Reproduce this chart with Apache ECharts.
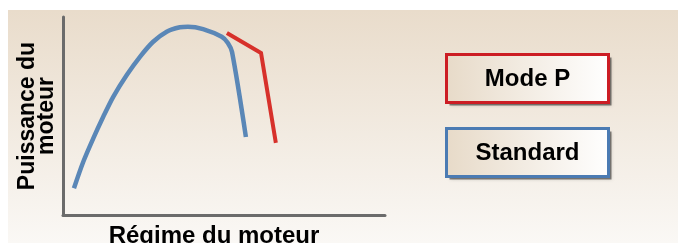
<!DOCTYPE html>
<html>
<head>
<meta charset="utf-8">
<script src="https://cdn.jsdelivr.net/npm/echarts@6/dist/echarts.min.js"></script>
<style>
  html, body { margin: 0; padding: 0; background: #fff; }
  #chart { width: 678px; height: 243px; }
</style>
</head>
<body>
<div id="chart"></div>
<script>
// régime (0-100) / puissance (0-100)
const standardRpm = [3.4, 6.3, 9.4, 12.5, 15.6, 19.8, 23.9, 28.0, 32.2, 36.3, 38.8, 43.5, 49.3, 51.2, 52.5, 56.8];
const standardPower = [13.5, 26.9, 38.7, 49.6, 59.7, 70.7, 79.9, 87.5, 92.6, 94.8, 95.1, 93.9, 90.0, 86.9, 82.3, 39.4];
const modePRpm = [50.9, 61.5, 66.1];
const modePPower = [91.9, 81.8, 36.4];
const legendNames = ['Mode P', 'Standard'];
const colors = ['#d7312b', '#5a87b7'];
const borderColors = ['#cc1d24', '#4b7bb3'];

const pairs = (xs, ys) => xs.map((x, i) => [x, ys[i]]);

const chart = echarts.init(document.getElementById('chart'));

const font = 'Liberation Sans, Arial, Helvetica, sans-serif';

function legendBox(name, i) {
    const top = i === 0 ? 53 : 127;
    return {
        type: 'group',
        left: 445,
        top: top,
        children: [
            {
                type: 'rect',
                shape: { x: 3, y: 3, width: 162, height: 48 },
                style: { fill: 'rgba(0,0,0,0.45)', shadowColor: 'rgba(0,0,0,0.4)', shadowBlur: 3 }
            },
            {
                type: 'rect',
                shape: { x: 0, y: 0, width: 162, height: 48 },
                style: {
                    fill: new echarts.graphic.LinearGradient(0, 0, 1, 0, [
                        { offset: 0, color: '#e7dac8' },
                        { offset: 1, color: '#ffffff' }
                    ]),
                    stroke: borderColors[i],
                    lineWidth: 3
                }
            },
            {
                type: 'text',
                x: 81,
                y: 25,
                style: {
                    text: name,
                    font: 'bold 24px ' + font,
                    fill: '#000',
                    align: 'center',
                    verticalAlign: 'middle'
                }
            }
        ]
    };
}

const option = {
    animation: false,
    backgroundColor: '#ffffff',
    graphic: [
        {
            type: 'rect',
            left: 8,
            top: 10,
            z: -10,
            silent: true,
            shape: { width: 670, height: 233 },
            style: {
                fill: new echarts.graphic.LinearGradient(0, 0, 0, 1, [
                    { offset: 0, color: '#e9dccb' },
                    { offset: 1, color: '#faf8f5' }
                ])
            }
        },
        legendBox(legendNames[0], 0),
        legendBox(legendNames[1], 1)
    ],
    grid: { left: 63, top: 17, right: 293, bottom: 28, outerBoundsMode: 'none', containLabel: false },
    xAxis: {
        type: 'value',
        min: 0,
        max: 100,
        name: 'Régime du moteur',
        nameLocation: 'middle',
        nameGap: 9,
        nameTextStyle: {
            fontFamily: font,
            fontWeight: 'bold',
            fontSize: 24,
            color: '#000',
            verticalAlign: 'top',
            padding: [0, 20, 0, 0]
        },
        axisLine: { lineStyle: { color: '#6b6b6b', width: 3 } },
        axisTick: { show: false },
        axisLabel: { show: false },
        splitLine: { show: false }
    },
    yAxis: {
        type: 'value',
        min: 0,
        max: 100,
        name: 'Puissance du\nmoteur',
        nameLocation: 'middle',
        nameGap: 7,
        nameRotate: 90,
        nameTextStyle: {
            fontFamily: font,
            fontWeight: 'bold',
            fontSize: 23,
            lineHeight: 19,
            color: '#000'
        },
        axisLine: { show: true, lineStyle: { color: '#6b6b6b', width: 3 } },
        axisTick: { show: false },
        axisLabel: { show: false },
        splitLine: { show: false }
    },
    series: [
        {
            name: legendNames[1],
            type: 'line',
            data: pairs(standardRpm, standardPower),
            smooth: 0.3,
            symbol: 'none',
            lineStyle: { color: colors[1], width: 4.5, cap: 'butt', join: 'round' }
        },
        {
            name: legendNames[0],
            type: 'line',
            data: pairs(modePRpm, modePPower),
            symbol: 'none',
            lineStyle: { color: colors[0], width: 4, cap: 'butt', join: 'miter' }
        }
    ]
};

chart.setOption(option);
</script>
</body>
</html>
